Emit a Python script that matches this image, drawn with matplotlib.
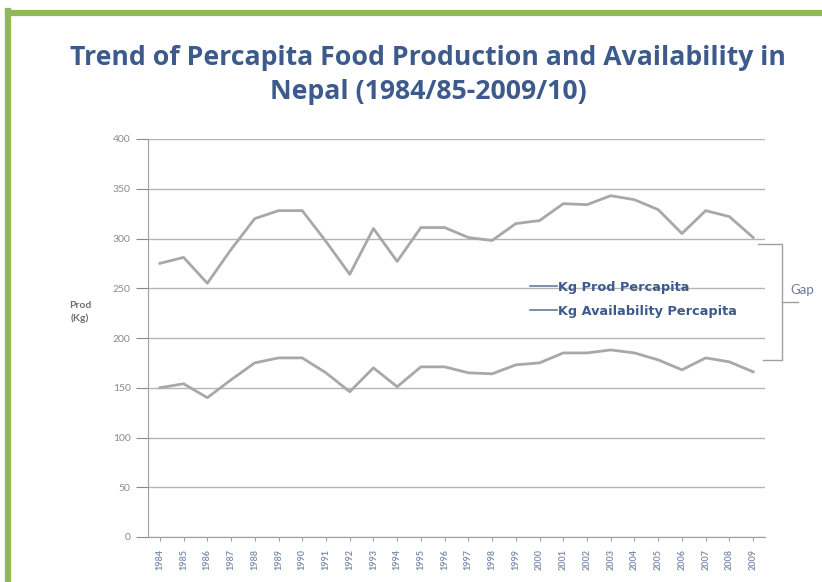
import matplotlib
matplotlib.use('agg')
import matplotlib.pyplot as plt
from matplotlib.lines import Line2D

plt.rc('font', family=['Lato', 'DejaVu Sans'])

# per capita values, kg
years = [str(y) for y in range(1984, 2010)]
prod = [275, 281, 255, 289, 320, 328, 328, 297, 264, 310, 277, 311, 311, 301,
        298, 315, 318, 335, 334, 343, 339, 329, 305, 328, 322, 301]
avail = [150, 154, 140, 158, 175, 180, 180, 165, 146, 170, 151, 171, 171, 165,
         164, 173, 175, 185, 185, 188, 185, 178, 168, 180, 176, 166]
yticks = [0, 50, 100, 150, 200, 250, 300, 350, 400]

title = 'Trend of Percapita Food Production and Availability in\nNepal (1984/85-2009/10)'
line_col = '#a8a8a8'
text_blue = '#3d5a8c'

fig = plt.figure(figsize=(8.22, 5.82), dpi=100)
ax = fig.add_axes([148/822, 1 - 537/582, (765 - 148)/822, (537 - 139)/582])

x = range(len(years))
l1, = ax.plot(x, prod, color=line_col, lw=2)
l2, = ax.plot(x, avail, color=line_col, lw=2)

ax.set_xlim(-0.5, len(years) - 0.5)
ax.set_ylim(0, 400)
ax.set_yticks(yticks)
ax.set_xticks(list(x))
ax.set_xticklabels(years, rotation=90, fontsize=6.5, color='#8090b0', fontweight='bold')
ax.tick_params(axis='y', labelsize=7.5, colors='#8a8a8a', length=9, width=0.8)
ax.tick_params(axis='x', length=3, width=0.8, color='#a0a0a0', pad=6)
ax.grid(axis='y', color='#b5b5b5', lw=1)
ax.set_axisbelow(True)
for s in ['top', 'right']:
    ax.spines[s].set_visible(False)
for s in ['left', 'bottom']:
    ax.spines[s].set_color('#a0a0a0')

# legend
handles = [Line2D([], [], color='#6a7a9a', lw=1.2), Line2D([], [], color='#6a7a9a', lw=1.2)]
leg = ax.legend(handles, ['Kg Prod Percapita', 'Kg Availability Percapita'],
                loc='upper left', bbox_to_anchor=(530/822, 1 - 281/582),
                bbox_transform=fig.transFigure, borderaxespad=0, borderpad=0,
                frameon=False, handlelength=2.1, handletextpad=0.1,
                labelspacing=0.85, prop={'family': 'DejaVu Sans', 'weight': 'bold', 'size': 9.3})
for t in leg.get_texts():
    t.set_color(text_blue)

# gap bracket to the right of the last points
top = prod[-1] - 7
bot = avail[-1] + 12
xe = len(years) - 1
ax.plot([xe + 0.2, xe + 1.2, xe + 1.2, xe + 0.4], [top, top, bot, bot],
        color='#a0a0a0', lw=1, clip_on=False)
mid = (top + bot) / 2
ax.plot([xe + 1.2, xe + 1.9], [mid, mid], color='#a0a0a0', lw=1, clip_on=False)
ax.text(xe + 1.55, mid + 6, 'Gap', fontsize=9.5, color='#6a7a9a', va='bottom', ha='left')

fig.text(80/822, 1 - 312/582, 'Prod\n(Kg)', fontsize=7.5, color='#707070',
         fontweight='bold', ha='center', va='center', linespacing=1.5)

fig.text(428/822, 1 - 75/582, title, fontsize=19.2, fontweight='bold', color=text_blue,
         ha='center', va='center', linespacing=1.42, family=['Open Sans', 'DejaVu Sans'])

# green frame
fig.add_artist(Line2D([8/822, 8/822], [0, 1 - 11/582], color='#8fb85a', lw=4.5,
                      transform=fig.transFigure))
fig.add_artist(Line2D([8/822, 1], [1 - 13/582, 1 - 13/582], color='#8fb85a', lw=4.5,
                      transform=fig.transFigure))

fig.savefig('out.png', dpi=100)
